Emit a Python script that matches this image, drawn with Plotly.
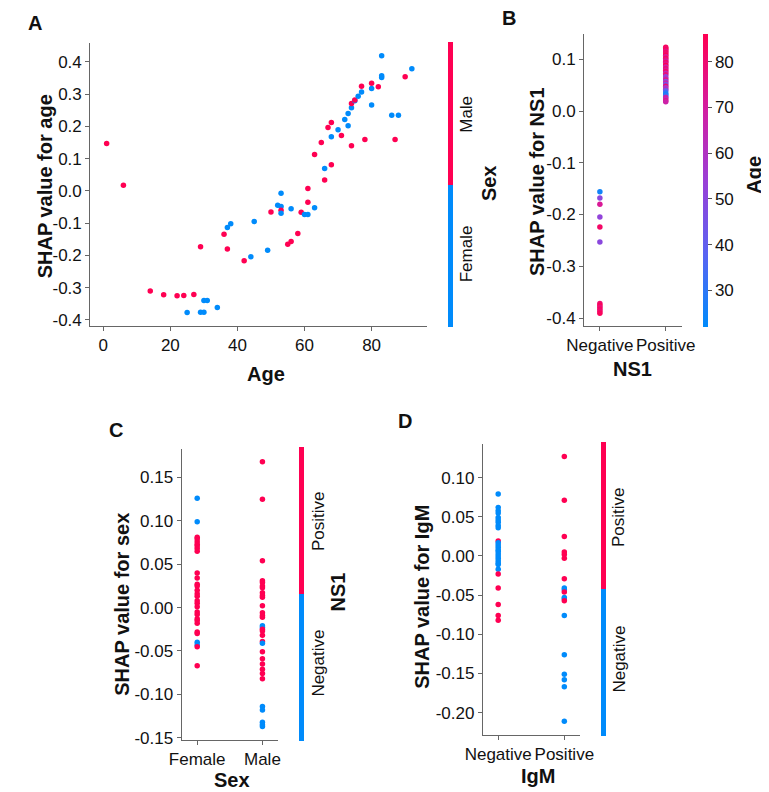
import plotly.graph_objects as go

W, H = 769, 792
RED, BLUE = "#ff0052", "#008bfb"
FONT = "Arial, Liberation Sans, sans-serif"

# ---------------- Panel A: SHAP for age, coloured by Sex (0=Female, 1=Male)
age_A = [1, 6, 14, 18, 22, 24, 27, 25, 29, 30, 30, 31, 34, 29, 36, 37, 37, 38, 42, 44, 45, 49, 50,
         52, 53, 53, 53, 53, 56, 55, 56, 58, 59, 60, 61, 61, 61, 63, 63, 65, 66, 66, 67, 68, 68, 68,
         70, 71, 72, 73, 73, 74, 74, 74, 75, 75, 76, 77, 77, 78, 80, 80, 80, 82, 83, 83, 83, 86, 88,
         87, 90, 92]
shap_age = [0.147, 0.018, -0.31, -0.322, -0.325, -0.324, -0.321, -0.377, -0.376, -0.376, -0.34, -0.34,
            -0.361, -0.173, -0.134, -0.18, -0.113, -0.102, -0.216, -0.204, -0.095, -0.184, -0.065,
            -0.044, -0.007, -0.048, -0.06, -0.069, -0.055, -0.165, -0.157, -0.132, -0.066, -0.073,
            -0.073, -0.035, 0.008, -0.052, 0.113, 0.15, 0.07, 0.034, 0.197, 0.212, 0.168, 0.081,
            0.19, 0.172, 0.222, 0.24, 0.202, 0.14, 0.258, 0.271, 0.28, 0.282, 0.294, 0.307, 0.325,
            0.16, 0.334, 0.318, 0.267, 0.323, 0.419, 0.357, 0.352, 0.235, 0.235, 0.16, 0.354, 0.379]
sex_A = [1, 1, 1, 1, 1, 1, 1, 0, 0, 0, 0, 0, 0, 1, 1, 1, 0, 0, 1, 0, 0, 0, 1,
         0, 0, 0, 1, 0, 0, 1, 1, 1, 1, 0, 0, 1, 1, 0, 1, 1, 0, 1, 1, 1, 0, 1,
         0, 1, 0, 0, 0, 1, 0, 1, 0, 1, 0, 0, 1, 1, 1, 0, 0, 1, 0, 0, 0, 0, 0,
         1, 1, 0]
ticks_A_x = [0, 20, 40, 60, 80]
ticks_A_y = [-0.4, -0.3, -0.2, -0.1, 0.0, 0.1, 0.2, 0.3, 0.4]
labels_A_y = ["-0.4", "-0.3", "-0.2", "-0.1", "0.0", "0.1", "0.2", "0.3", "0.4"]

# ---------------- Panel B: SHAP for NS1 (0=Negative, 1=Positive), coloured by Age
ns1_B = [0] * 12 + [1] * 37
shap_ns1 = [-0.156, -0.168, -0.180, -0.205, -0.224, -0.253, -0.372, -0.376, -0.379, -0.383, -0.387, -0.391,
            0.123, 0.121, 0.118, 0.116, 0.113, 0.110, 0.108, 0.105, 0.102, 0.099, 0.096, 0.094, 0.091,
            0.088, 0.085, 0.082, 0.079, 0.076, 0.073, 0.070, 0.066, 0.063, 0.060, 0.057, 0.054, 0.051,
            0.048, 0.045, 0.042, 0.039, 0.035, 0.032, 0.029, 0.026, 0.023, 0.020, 0.018]
age_B = [25, 50, 72, 52, 82, 50, 80, 85, 78, 83, 80, 84,
         84, 80, 86, 76, 82, 79, 85, 70, 83, 77, 68, 81, 74,
         86, 66, 79, 72, 83, 64, 78, 52, 60, 75, 48, 68, 45,
         80, 55, 62, 40, 30, 26, 33, 70, 65, 75, 68]
cat_ticks = [0, 1]
ns1_labels = ["Negative", "Positive"]
ticks_B_y = [-0.4, -0.3, -0.2, -0.1, 0.0, 0.1]
labels_B_y = ["-0.4", "-0.3", "-0.2", "-0.1", "0.0", "0.1"]
age_cbar_ticks = [30, 40, 50, 60, 70, 80]

# ---------------- Panel C: SHAP for sex (0=Female, 1=Male), coloured by NS1
sex_C = [0] * 30 + [1] * 32
shap_sex = [0.126, 0.099, 0.081, 0.079, 0.076, 0.073, 0.071, 0.068, 0.065, 0.040, 0.034, 0.027, 0.025,
            0.020, 0.016, 0.013, 0.008, 0.005, 0.001, -0.005, -0.008, -0.013, -0.015, -0.018, -0.028,
            -0.030, -0.040, -0.043, -0.045, -0.067,
            0.168, 0.125, 0.054, 0.031, 0.029, 0.025, 0.023, 0.017, 0.014, 0.012, 0.002, -0.006, -0.009,
            -0.011, -0.021, -0.023, -0.025, -0.027, -0.032, -0.039, -0.041, -0.051, -0.059, -0.065,
            -0.071, -0.076, -0.082, -0.114, -0.118, -0.132, -0.135, -0.137]
ns1_C = [0, 0, 1, 1, 1, 1, 1, 1, 1, 1, 1, 1, 1, 1, 1, 1, 1, 1, 1, 1, 1, 1, 1, 1, 1, 1, 0, 0, 1, 1,
         1, 1, 1, 1, 1, 1, 1, 1, 1, 1, 1, 1, 1, 1, 0, 0, 1, 1, 1, 1, 0, 1, 1, 1, 1, 1, 1, 0, 0, 0, 0, 0]
sex_labels = ["Female", "Male"]
ticks_C_y = [-0.15, -0.10, -0.05, 0.0, 0.05, 0.10, 0.15]
labels_C_y = ["-0.15", "-0.10", "-0.05", "0.00", "0.05", "0.10", "0.15"]

# ---------------- Panel D: SHAP for IgM (0=Negative, 1=Positive), coloured by NS1
igm_D = [0] * 27 + [1] * 19
shap_igm = [0.079, 0.062, 0.058, 0.055, 0.049, 0.046, 0.043, 0.039, 0.036, 0.019, 0.017, 0.014, 0.011,
            0.008, 0.006, 0.003, 0.000, -0.003, -0.006, -0.009, -0.011, -0.017, -0.023, -0.041, -0.062,
            -0.076, -0.082,
            0.127, 0.071, 0.025, 0.005, 0.002, -0.003, -0.029, -0.041, -0.043, -0.046, -0.053, -0.055,
            -0.057, -0.076, -0.126, -0.151, -0.158, -0.167, -0.211]
ns1_D = [0, 0, 0, 0, 0, 0, 0, 0, 0, 1, 0, 0, 0, 0, 0, 0, 0, 0, 0, 0, 0, 0, 1, 1, 1, 1, 1,
         1, 1, 1, 1, 1, 1, 1, 0, 0, 1, 0, 0, 1, 0, 0, 0, 0, 0, 0]
igm_labels = ["Negative", "Positive"]
ticks_D_y = [-0.20, -0.15, -0.10, -0.05, 0.0, 0.05, 0.10]
labels_D_y = ["-0.20", "-0.15", "-0.10", "-0.05", "0.00", "0.05", "0.10"]

# ---------------- styling helpers
binary_scale = [[0, BLUE], [0.5, BLUE], [0.5, RED], [1, RED]]
age_scale = [[0, "#008bfb"], [0.25, "#5a63f2"], [0.5, "#9a3fd6"], [0.75, "#d41da0"], [1, "#ff0052"]]


def px(x):
    return x / W


def py(y):
    return 1 - y / H


def cbar(left, top, bottom, show_ticks=False, tickvals=None):
    d = dict(thickness=5, thicknessmode="pixels", len=bottom - top, lenmode="pixels",
             x=px(left), xanchor="left", y=py((top + bottom) / 2), yanchor="middle",
             xpad=0, ypad=0, outlinewidth=0)
    if show_ticks:
        d.update(tickvals=tickvals, ticks="outside", ticklen=4, tickcolor="#555",
                 tickfont=dict(size=17, color="#111", family=FONT))
    else:
        d.update(showticklabels=False, ticks="")
    return d


fig = go.Figure()
MS = 5.5

fig.add_trace(go.Scatter(x=age_A, y=shap_age, mode="markers", xaxis="x", yaxis="y",
                         marker=dict(size=MS, color=sex_A, colorscale=binary_scale, cmin=0, cmax=1,
                                     showscale=True, colorbar=cbar(440, 35.7, 321), line=dict(width=0)),
                         showlegend=False))
fig.add_trace(go.Scatter(x=ns1_B, y=shap_ns1, mode="markers", xaxis="x2", yaxis="y2",
                         marker=dict(size=MS, color=age_B, colorscale=age_scale, cmin=22, cmax=86,
                                     showscale=True,
                                     colorbar=cbar(706, 27.7, 321, True, age_cbar_ticks),
                                     line=dict(width=0)),
                         showlegend=False))
fig.add_trace(go.Scatter(x=sex_C, y=shap_sex, mode="markers", xaxis="x3", yaxis="y3",
                         marker=dict(size=MS, color=ns1_C, colorscale=binary_scale, cmin=0, cmax=1,
                                     showscale=True, colorbar=cbar(285.3, 445, 739), line=dict(width=0)),
                         showlegend=False))
fig.add_trace(go.Scatter(x=igm_D, y=shap_igm, mode="markers", xaxis="x4", yaxis="y4",
                         marker=dict(size=MS, color=ns1_D, colorscale=binary_scale, cmin=0, cmax=1,
                                     showscale=True, colorbar=cbar(600.3, 440, 734), line=dict(width=0)),
                         showlegend=False))

axis_common = dict(showline=True, linecolor="#666", linewidth=1, ticks="outside", ticklen=4,
                   tickcolor="#666", showgrid=False, zeroline=False,
                   tickfont=dict(size=17, color="#111", family=FONT))


def ax(domain, rng, anchor, **kw):
    d = dict(axis_common)
    d.update(domain=domain, range=rng, anchor=anchor, **kw)
    return d


fig.update_layout(
    width=W, height=H, margin=dict(l=0, r=0, t=0, b=0),
    paper_bgcolor="white", plot_bgcolor="white",
    font=dict(family=FONT, color="#111"),
    xaxis=ax([px(67), px(418)], [-3.9, 96.4], "y", tickvals=ticks_A_x),
    yaxis=ax([py(321), py(35)], [-0.418, 0.46], "x", tickvals=ticks_A_y, ticktext=labels_A_y),
    xaxis2=ax([px(582.3), px(684)], [-0.24, 1.24], "y2", tickvals=cat_ticks, ticktext=ns1_labels),
    yaxis2=ax([py(321), py(26.7)], [-0.415, 0.148], "x2", tickvals=ticks_B_y, ticktext=labels_B_y),
    xaxis3=ax([px(162.3), px(263.3)], [-0.24, 1.244], "y3", tickvals=cat_ticks, ticktext=sex_labels),
    yaxis3=ax([py(739.3), py(445.3)], [-0.1524, 0.183], "x3", tickvals=ticks_C_y, ticktext=labels_C_y),
    xaxis4=ax([px(476.7), px(577.7)], [-0.232, 1.232], "y4", tickvals=cat_ticks, ticktext=igm_labels),
    yaxis4=ax([py(734), py(440)], [-0.228, 0.1435], "x4", tickvals=ticks_D_y, ticktext=labels_D_y),
)

anns = []


def ann(text, x, y, size, bold=False, angle=0):
    anns.append(dict(text=f"<b>{text}</b>" if bold else text, x=px(x), y=py(y), xref="paper", yref="paper",
                     xanchor="center", yanchor="middle", showarrow=False, textangle=angle,
                     font=dict(size=size, family=FONT, color="#111")))


# panel letters
ann("A", 9, 15, 20, True)
ann("B", 504, 10, 20, True)
ann("C", 94, 426, 20, True)
ann("D", 395, 417, 20, True)
# axis titles
ann("SHAP value for age", 20, 180, 20, True, -90)
ann("Age", 250, 370, 20, True)
ann("SHAP value for NS1", 533, 175, 20, True, -90)
ann("NS1", 633, 365, 20, True)
ann("SHAP value for sex", 100, 602, 20, True, -90)
ann("Sex", 215, 780, 20, True)
ann("SHAP value for IgM", 413, 595, 20, True, -90)
ann("IgM", 534, 776, 20, True)
# colorbar labels
ann("Male", 460, 107, 17, False, -90)
ann("Female", 460, 248, 17, False, -90)
ann("Sex", 483, 177, 20, True, -90)
ann("Age", 760, 168, 20, True, -90)
ann("Positive", 305, 518, 17, False, -90)
ann("Negative", 305, 662, 17, False, -90)
ann("NS1", 326, 590, 20, True, -90)
ann("Positive", 619, 514, 17, False, -90)
ann("Negative", 619, 658, 17, False, -90)
fig.update_layout(annotations=anns)

fig.write_html("out.html")
